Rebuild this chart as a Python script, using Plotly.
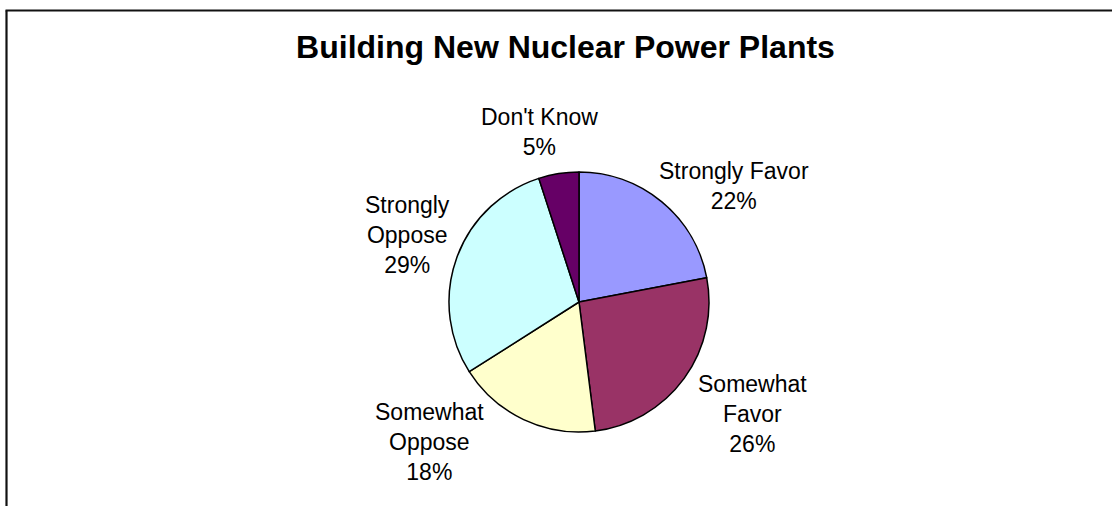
import plotly.graph_objects as go

# Survey responses on building new nuclear power plants (percent)
categories = ["Strongly Favor", "Somewhat Favor", "Somewhat Oppose", "Strongly Oppose", "Don't Know"]
label_lines = ["Strongly Favor", "Somewhat<br>Favor", "Somewhat<br>Oppose", "Strongly<br>Oppose", "Don't Know"]
values = [22, 26, 18, 29, 5]
colors = ["#9999FF", "#993366", "#FFFFCC", "#CCFFFF", "#660066"]

W, H = 1112, 506
FONT = "Liberation Sans, Arial, sans-serif"

# label block centres in pixels (x, y)
label_xy = [(733.5, 186), (752, 414), (429, 442), (407, 235), (539.5, 132)]

fig = go.Figure(
    go.Pie(
        labels=categories,
        values=values,
        sort=False,
        direction="clockwise",
        rotation=0,
        marker=dict(colors=colors, line=dict(color="#000000", width=1.5)),
        textinfo="none",
        hoverinfo="label+percent",
        showlegend=False,
        domain=dict(x=[449 / W, 709 / W], y=[74 / H, 334 / H]),
    )
)

for text, v, (px, py) in zip(label_lines, values, label_xy):
    fig.add_annotation(
        text=f"{text}<br>{v}%",
        x=px / W, y=1 - py / H,
        xref="paper", yref="paper",
        xanchor="center", yanchor="middle",
        showarrow=False,
        align="center",
        font=dict(family=FONT, size=23, color="#000000"),
    )

# chart frame: top edge and left edge (the rest lies off the page)
frame = dict(color="#111111", width=2.2)
fig.add_shape(type="line", xref="paper", yref="paper",
              x0=5.5 / W, x1=1.0, y0=1 - 10.5 / H, y1=1 - 10.5 / H, line=frame)
fig.add_shape(type="line", xref="paper", yref="paper",
              x0=6.5 / W, x1=6.5 / W, y0=0.0, y1=1 - 10.5 / H, line=frame)

fig.update_layout(
    width=W, height=H,
    margin=dict(l=0, r=0, t=0, b=0),
    paper_bgcolor="#FFFFFF",
    plot_bgcolor="#FFFFFF",
    title=dict(
        text="<b>Building New Nuclear Power Plants</b>",
        x=565.5 / W, y=1 - 47 / H,
        xanchor="center", yanchor="middle",
        font=dict(family=FONT, size=32, color="#000000"),
    ),
)

fig.write_html(
    "out.html",
    config={"displayModeBar": False},
    post_script="document.body.style.margin='0';document.body.style.overflow='hidden';",
)
